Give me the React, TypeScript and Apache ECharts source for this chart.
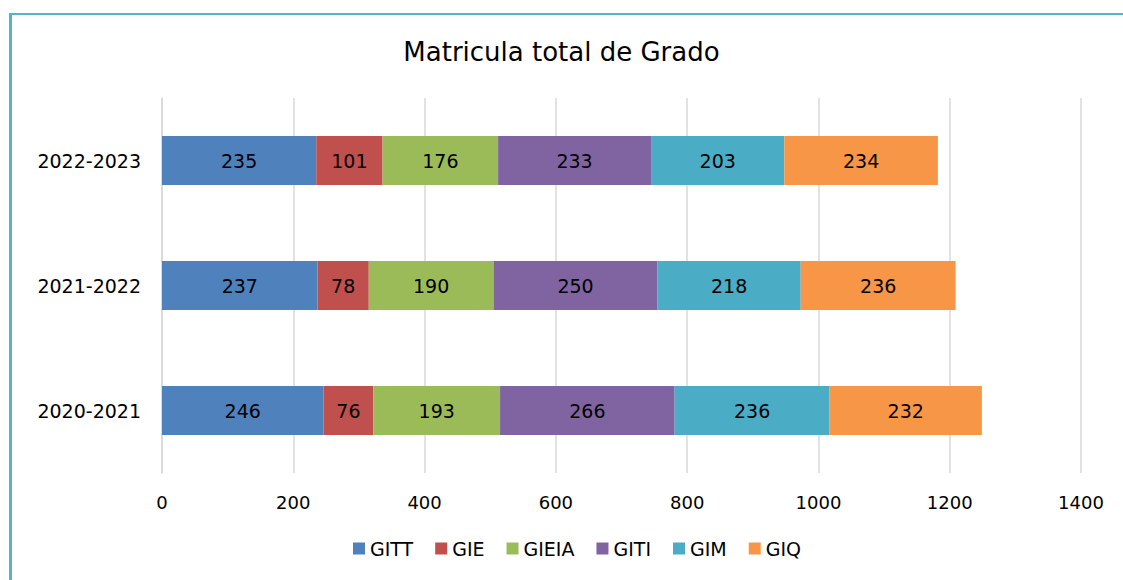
import React, { useEffect, useRef } from "react";
import * as echarts from "echarts";

const categories = ["2020-2021", "2021-2022", "2022-2023"];
const seriesNames = ["GITT", "GIE", "GIEIA", "GITI", "GIM", "GIQ"];
const GITT = [246, 237, 235];
const GIE = [76, 78, 101];
const GIEIA = [193, 190, 176];
const GITI = [266, 250, 233];
const GIM = [236, 218, 203];
const GIQ = [232, 236, 234];
const colors = ["#4f81bd", "#c0504d", "#9bbb59", "#8064a2", "#4bacc6", "#f79646"];

const FONT = "DejaVu Sans";

export default function App() {
  const ref = useRef<HTMLDivElement>(null);
  useEffect(() => {
    document.body.style.margin = "0";
    const chart = echarts.init(ref.current!, null, { renderer: "svg" });
    const values = [GITT, GIE, GIEIA, GITI, GIM, GIQ];
    chart.setOption({
      animation: false,
      backgroundColor: "#ffffff",
      title: {
        text: "Matricula total de Grado",
        left: "center",
        top: 34,
        textStyle: { fontFamily: FONT, fontSize: 26, fontWeight: "normal", color: "#000" },
      },
      legend: {
        bottom: 17,
        left: 348,
        itemWidth: 12,
        itemHeight: 12,
        itemGap: 22,
        icon: "rect",
        textStyle: { fontFamily: FONT, fontSize: 19, color: "#000" },
        data: seriesNames,
      },
      grid: { left: 162, right: 42, top: 98, bottom: 107, containLabel: false },
      xAxis: {
        type: "value",
        min: 0,
        max: 1400,
        interval: 200,
        axisLine: { show: false },
        axisTick: { show: false },
        splitLine: { lineStyle: { color: "#d9d9d9", width: 1.5 } },
        axisLabel: { fontFamily: FONT, fontSize: 18, color: "#000", margin: 20, formatter: (v: number) => String(v) },
      },
      yAxis: {
        type: "category",
        data: categories,
        axisLine: { show: true, lineStyle: { color: "#d9d9d9", width: 1.5 } },
        axisTick: { show: false },
        axisLabel: { fontFamily: FONT, fontSize: 19, color: "#000", margin: 21 },
      },
      graphic: [
        { type: "line", shape: { x1: 9, y1: 14, x2: 1123, y2: 14 }, style: { stroke: "#57b3cc", lineWidth: 2 } },
        { type: "line", shape: { x1: 10.5, y1: 13, x2: 10.5, y2: 580 }, style: { stroke: "#57b3cc", lineWidth: 3 } },
      ],
      series: seriesNames.map((n, i) => ({
        name: n,
        type: "bar",
        stack: "total",
        data: values[i],
        barWidth: 49,
        itemStyle: { color: colors[i] },
        label: {
          show: true,
          position: "inside",
          color: "#000",
          fontFamily: FONT,
          fontSize: 19,
        },
      })),
    });
    return () => chart.dispose();
  }, []);
  return <div ref={ref} style={{ width: 1123, height: 580 }} />;
}
